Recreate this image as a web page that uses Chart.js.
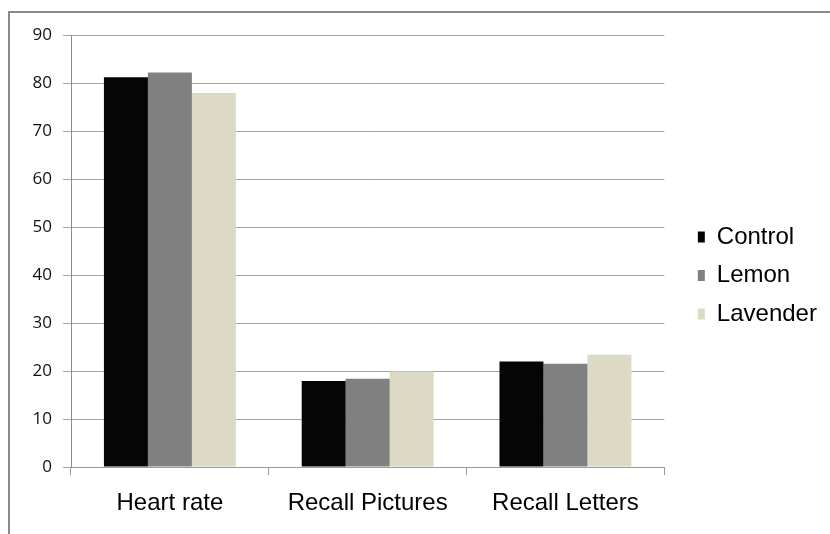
<!DOCTYPE html>
<html>
<head>
<meta charset="utf-8">
<script src="https://cdn.jsdelivr.net/npm/chart.js@4/dist/chart.umd.min.js"></script>
<style>
  html, body { margin: 0; padding: 0; background: #ffffff; overflow: hidden; }
  #frame {
    position: absolute; left: 8px; top: 11px; width: 900px; height: 600px;
    border-left: 2px solid #8a8a8a; border-top: 2px solid #8a8a8a;
  }
  #wrap { position: absolute; left: 0; top: 0; width: 830px; height: 534px; }
</style>
</head>
<body>
<div id="frame"></div>
<div id="wrap"><canvas id="chart" width="830" height="534"></canvas></div>
<script>
// Measures compared across the three scent conditions
const categories = ['Heart rate', 'Recall Pictures', 'Recall Letters'];
const control  = [81.2, 17.9, 22.0];
const lemon    = [82.2, 18.4, 21.5];
const lavender = [77.9, 19.9, 23.4];
const yTicks   = [0, 10, 20, 30, 40, 50, 60, 70, 80, 90];

const seriesNames  = ['Control', 'Lemon', 'Lavender'];
const seriesColors = ['#050505', '#808080', '#dcd9c5'];
const seriesData   = [control, lemon, lavender];

const datasets = seriesNames.map((name, i) => ({
  label: name,
  data: seriesData[i],
  backgroundColor: seriesColors[i],
  borderWidth: 0,
  categoryPercentage: 0.667,
  barPercentage: 1.0
}));

new Chart(document.getElementById('chart'), {
  type: 'bar',
  data: { labels: categories, datasets },
  options: {
    responsive: false,
    animation: false,
    layout: { padding: { top: 35, bottom: 18, left: 0, right: 10 } },
    plugins: {
      tooltip: { enabled: false },
      legend: {
        position: 'right',
        align: 'center',
        labels: {
          boxWidth: 7,
          boxHeight: 11,
          padding: 14.5,
          color: '#000000',
          font: { family: '"Liberation Sans", Arial, sans-serif', size: 24 }
        }
      }
    },
    scales: {
      x: {
        grid: {
          drawOnChartArea: false,
          drawTicks: true,
          tickLength: 8,
          color: '#9a9a9a',
          offset: true
        },
        border: { color: '#9a9a9a' },
        ticks: {
          color: '#000000',
          padding: 14,
          maxRotation: 0,
          font: { family: '"Liberation Sans", Arial, sans-serif', size: 24 }
        },
        afterFit(scale) { scale.height = 49; }
      },
      y: {
        min: 0,
        max: 90,
        afterBuildTicks(scale) { scale.ticks = yTicks.map(v => ({ value: v })); },
        grid: { color: '#a4a4a4', tickLength: 8, drawTicks: true },
        border: { color: '#8a8a8a' },
        ticks: {
          color: '#111111',
          padding: 11,
          font: { family: '"Open Sans", sans-serif', size: 17 }
        },
        afterFit(scale) { scale.width = 71; }
      },
      // empty spacer between the plot and the legend
      gap: {
        type: 'linear',
        position: 'right',
        display: true,
        grid: { display: false },
        border: { display: false },
        ticks: { display: false },
        afterFit(scale) { scale.width = 19; }
      }
    }
  }
});
</script>
</body>
</html>
